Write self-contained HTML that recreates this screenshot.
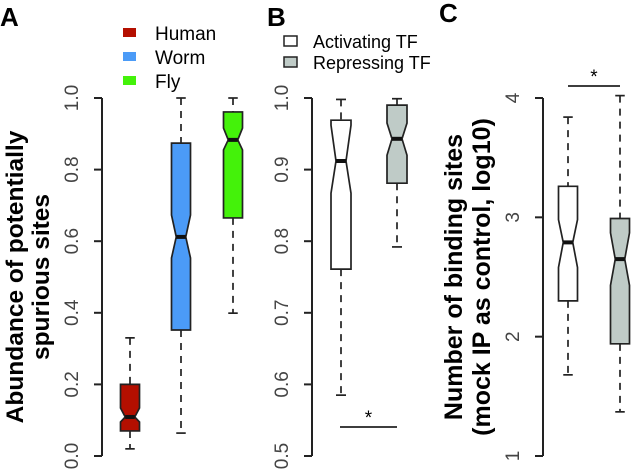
<!DOCTYPE html>
<html><head><meta charset="utf-8"><style>
html,body{margin:0;padding:0;background:#fff}
svg{display:block;font-family:"Liberation Sans",Arial,sans-serif}
</style></head><body>
<svg id="chart" width="632" height="469" viewBox="0 0 632 469" xmlns="http://www.w3.org/2000/svg">
<text x="0" y="26" font-size="26" font-weight="bold">A</text>
<text x="267" y="26" font-size="26" font-weight="bold">B</text>
<text x="439" y="22" font-size="26" font-weight="bold">C</text>
<g>
<rect x="123" y="28" width="13" height="9" fill="#b40f00"/>
<text x="155" y="40" font-size="19">Human</text>
<rect x="123" y="52" width="13" height="9" fill="#4b9bf7"/>
<text x="155" y="64" font-size="19">Worm</text>
<rect x="123" y="76" width="13" height="9" fill="#44f20a"/>
<text x="155" y="88" font-size="19">Fly</text>
</g>
<g>
<rect x="284" y="36" width="13" height="10" fill="#fff" stroke="#222" stroke-width="1.5"/>
<text x="313" y="48" font-size="18">Activating TF</text>
<rect x="284" y="57" width="13" height="10" fill="#bfcbc7" stroke="#222" stroke-width="1.5"/>
<text x="313" y="69" font-size="18">Repressing TF</text>
</g>
<g transform="translate(23,277) rotate(-90)"><text x="0" y="0" text-anchor="middle" font-size="24.5" font-weight="bold">Abundance of potentially</text></g>
<g transform="translate(49,277) rotate(-90)"><text x="0" y="0" text-anchor="middle" font-size="24.5" font-weight="bold">spurious sites</text></g>
<g transform="translate(462,277) rotate(-90)"><text x="0" y="0" text-anchor="middle" font-size="25" font-weight="bold">Number of binding sites</text></g>
<g transform="translate(490,277) rotate(-90)"><text x="0" y="0" text-anchor="middle" font-size="25" font-weight="bold">(mock IP as control, log10)</text></g>
<g id="plots"></g>
</svg>
<script>
// Panel A
const aCats = ["Human","Worm","Fly"];
const aLow = [0.02, 0.064, 0.399];
const aQ1 = [0.07, 0.352, 0.665];
const aMed = [0.109, 0.612, 0.883];
const aQ3 = [0.20, 0.874, 0.961];
const aHigh = [0.33, 1.0, 1.0];
const aNotchLo = [0.095, 0.553, 0.855];
const aNotchHi = [0.134, 0.673, 0.916];
const aTicks = ["0.0","0.2","0.4","0.6","0.8","1.0"];
// Panel B
const bCats = ["Activating TF","Repressing TF"];
const bLow = [0.585, 0.792];
const bQ1 = [0.761, 0.881];
const bMed = [0.912, 0.943];
const bQ3 = [0.969, 0.990];
const bHigh = [0.998, 0.999];
const bNotchLo = [0.867, 0.92];
const bNotchHi = [0.962, 0.965];
const bTicks = ["0.5","0.6","0.7","0.8","0.9","1.0"];
// Panel C
const cCats = ["Activating TF","Repressing TF"];
const cLow = [1.68, 1.37];
const cQ1 = [2.30, 1.94];
const cMed = [2.79, 2.65];
const cQ3 = [3.26, 2.99];
const cHigh = [3.84, 4.02];
const cNotchLo = [2.58, 2.43];
const cNotchHi = [2.98, 2.87];
const cTicks = ["1","2","3","4"];

const NS = "http://www.w3.org/2000/svg";
const root = document.getElementById("plots");
function mk(tag, attrs, parent){const e=document.createElementNS(NS,tag);for(const k in attrs)e.setAttribute(k,attrs[k]);(parent||root).appendChild(e);return e;}
const yTop=98, yBot=456;
function scale(min,max){return v=>yBot-(v-min)/(max-min)*(yBot-yTop);}

function axis(x, ticks, min, max, labelX, name){
  const y=scale(min,max);
  const g=mk("g",{});
  
  
  mk("line",{x1:x,y1:y(min),x2:x,y2:y(max),stroke:"#222","stroke-width":2},g);
  ticks.forEach(t=>{
    const v=parseFloat(t), yy=y(v);
    const l=mk("line",{x1:x-8,y1:yy,x2:x,y2:yy,stroke:"#222","stroke-width":2},g);
    
    
    const tx=mk("text",{transform:`translate(${labelX},${yy}) rotate(-90)`,"text-anchor":"middle","font-size":19,fill:"#444"},g);
    
    
    tx.textContent=t;
  });
}

function boxes(centers, hw, low,q1,med,q3,high,nlo,nhi,min,max,fills,names){
  const y=scale(min,max);
  centers.forEach((cx,i)=>{
    const g=mk("g",{});
    
    
    const cap=hw*0.5, nw=hw*0.5;
    mk("line",{x1:cx,y1:y(high[i]),x2:cx,y2:y(q3[i]),stroke:"#222","stroke-width":1.7,"stroke-dasharray":"7,6"},g);
    mk("line",{x1:cx,y1:y(q1[i]),x2:cx,y2:y(low[i]),stroke:"#222","stroke-width":1.7,"stroke-dasharray":"7,6"},g);
    mk("line",{x1:cx-cap,y1:y(high[i]),x2:cx+cap,y2:y(high[i]),stroke:"#222","stroke-width":1.7},g);
    mk("line",{x1:cx-cap,y1:y(low[i]),x2:cx+cap,y2:y(low[i]),stroke:"#222","stroke-width":1.7},g);
    const a=y(q3[i]), b=y(nhi[i]), m=y(med[i]), c=y(nlo[i]), d=y(q1[i]);
    const pts=[[cx-hw,a],[cx+hw,a],[cx+hw,b],[cx+nw,m],[cx+hw,c],[cx+hw,d],[cx-hw,d],[cx-hw,c],[cx-nw,m],[cx-hw,b]];
    mk("polygon",{points:pts.map(p=>p.join(",")).join(" "),fill:fills[i],stroke:"#222","stroke-width":1.7},g);
    mk("line",{x1:cx-nw,y1:m,x2:cx+nw,y2:m,stroke:"#111","stroke-width":4},g);
  });
}

axis(102,aTicks,0,1,78,"y-axis-a");
boxes([130,181,233],9.5,aLow,aQ1,aMed,aQ3,aHigh,aNotchLo,aNotchHi,0,1,["#b40f00","#4b9bf7","#44f20a"],["box-human","box-worm","box-fly"]);
axis(312,bTicks,0.5,1,288,"y-axis-b");
boxes([341,397],10,bLow,bQ1,bMed,bQ3,bHigh,bNotchLo,bNotchHi,0.5,1,["#fff","#bfcbc7"],["box-b-activating","box-b-repressing"]);
axis(543,cTicks,1,4,519,"y-axis-c");
boxes([568,620],9.5,cLow,cQ1,cMed,cQ3,cHigh,cNotchLo,cNotchHi,1,4,["#fff","#bfcbc7"],["box-c-activating","box-c-repressing"]);

function sig(x1,x2,y,name){
  const g=mk("g",{});
  
  
  mk("line",{x1:x1,y1:y,x2:x2,y2:y,stroke:"#222","stroke-width":1.7},g);
  const t=mk("text",{x:(x1+x2)/2,y:y-3,"text-anchor":"middle","font-size":19},g);
  t.textContent="*";
}
sig(340,397,427,"significance-b");
sig(568,620,86,"significance-c");
</script>
</body></html>
